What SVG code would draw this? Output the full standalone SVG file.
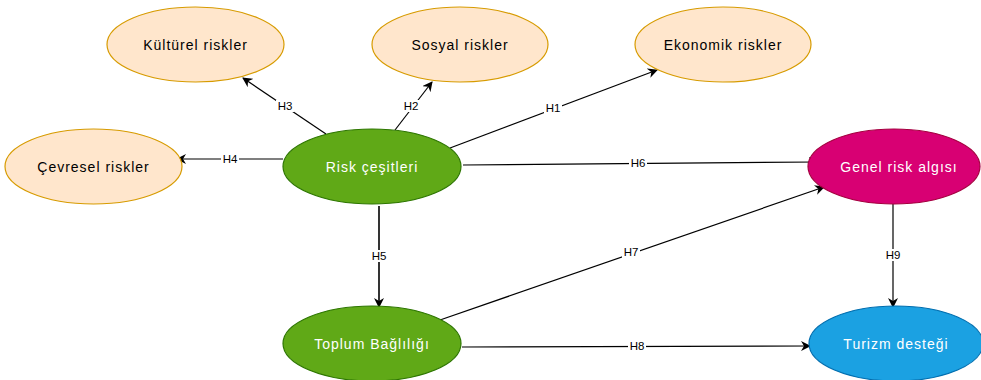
<svg xmlns="http://www.w3.org/2000/svg" width="981" height="380" viewBox="0 0 981 380">
<defs>
<marker id="arr" viewBox="0 0 10 10" refX="9" refY="5" markerWidth="10" markerHeight="10" markerUnits="userSpaceOnUse" orient="auto">
<path d="M0,0 L10,5 L0,10 L3,5 Z" fill="#000"/>
</marker>
<style>
.peach{fill:#ffe6cc;stroke:#d79b00;stroke-width:1.2}
.green{fill:#60a917;stroke:#2d7600;stroke-width:1.2}
.pink{fill:#d80073;stroke:#a50040;stroke-width:1.2}
.blue{fill:#1ba1e2;stroke:#006eaf;stroke-width:1.2}
.t{font-family:"Liberation Sans",Arial,sans-serif;font-size:14px;letter-spacing:1px;text-anchor:middle;dominant-baseline:central}
.dk{fill:#000}
.wt{fill:#fff}
.e{stroke:#000;stroke-width:1.2;fill:none;marker-end:url(#arr)}
.lb{font-family:"Liberation Sans",Arial,sans-serif;font-size:11.5px;text-anchor:middle;dominant-baseline:central;fill:#000}
.lbg{fill:#fff}
</style>
</defs>
<rect width="981" height="380" fill="#fff"/>
<g id="connectors">
<line class="e" x1="450" y1="148" x2="657" y2="70"/>
<line class="e" x1="395" y1="130" x2="432" y2="82"/>
<line class="e" x1="326" y1="134" x2="243" y2="78"/>
<line class="e" x1="283" y1="159" x2="177" y2="159"/>
<line class="e" x1="379" y1="206" x2="379" y2="307" style="stroke-width:1.6"/>
<line class="e" x1="463" y1="165" x2="818" y2="162"/>
<line class="e" x1="440" y1="320" x2="824" y2="187"/>
<line class="e" x1="462" y1="347" x2="810" y2="346"/>
<line class="e" x1="893" y1="204" x2="893" y2="307"/>
<g id="labels">
<rect class="lbg" x="544" y="102" width="18" height="12"/><text class="lb" x="553" y="108">H1</text>
<rect class="lbg" x="402" y="100" width="18" height="12"/><text class="lb" x="411" y="106">H2</text>
<rect class="lbg" x="276" y="100" width="18" height="12"/><text class="lb" x="285" y="106">H3</text>
<rect class="lbg" x="221" y="153" width="18" height="12"/><text class="lb" x="230" y="159">H4</text>
<rect class="lbg" x="370" y="250" width="18" height="12"/><text class="lb" x="379" y="256">H5</text>
<rect class="lbg" x="629" y="157" width="18" height="12"/><text class="lb" x="638" y="163">H6</text>
<rect class="lbg" x="622" y="246" width="18" height="12"/><text class="lb" x="631" y="252">H7</text>
<rect class="lbg" x="628" y="340" width="18" height="12"/><text class="lb" x="637" y="346">H8</text>
<rect class="lbg" x="884" y="249" width="18" height="12"/><text class="lb" x="893" y="255">H9</text>
</g>
</g>
<g id="kulturel"><ellipse class="peach" cx="195.5" cy="44.5" rx="88.5" ry="37.5"/><text class="t dk" x="195.5" y="44.5">Kültürel riskler</text></g>
<g id="sosyal"><ellipse class="peach" cx="460" cy="44.5" rx="88" ry="37.5"/><text class="t dk" x="460" y="44.5">Sosyal riskler</text></g>
<g id="ekonomik"><ellipse class="peach" cx="723" cy="44.5" rx="88" ry="37.5"/><text class="t dk" x="723" y="44.5">Ekonomik riskler</text></g>
<g id="cevresel"><ellipse class="peach" cx="93.5" cy="166.5" rx="88.5" ry="37.5"/><text class="t dk" x="93.5" y="166.5">Çevresel riskler</text></g>
<g id="risk"><ellipse class="green" cx="372" cy="166.5" rx="89" ry="37.5"/><text class="t wt" x="372" y="166.5">Risk çeşitleri</text></g>
<g id="genel"><ellipse class="pink" cx="894" cy="166.5" rx="86" ry="37.5"/><text class="t wt" x="899" y="166.5">Genel risk algısı</text></g>
<g id="toplum"><ellipse class="green" cx="372" cy="343.5" rx="89" ry="37.5"/><text class="t wt" x="372" y="343.5">Toplum Bağlılığı</text></g>
<g id="turizm"><ellipse class="blue" cx="896" cy="343.5" rx="87" ry="37.5"/><text class="t wt" x="896" y="343.5">Turizm desteği</text></g>
</svg>
